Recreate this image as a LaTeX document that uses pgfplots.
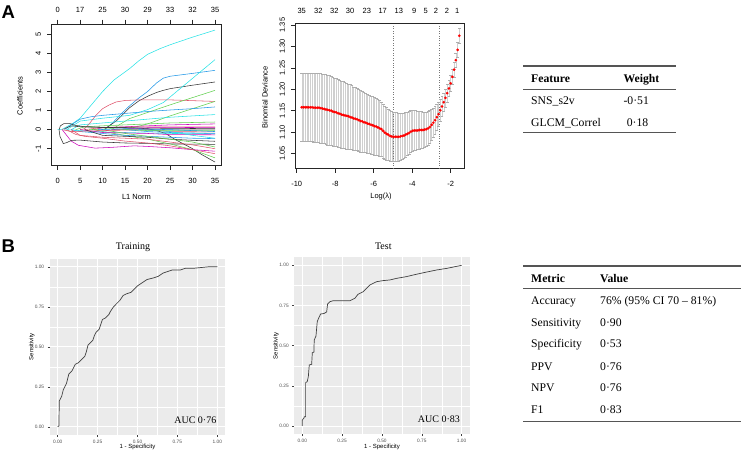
\documentclass[border=0pt]{standalone}
\usepackage{pgfplots}
\pgfplotsset{compat=1.18}
\usepackage{pgfplotstable}
\usepackage{fontspec}
\setmainfont{Liberation Serif}
\newfontfamily\arial{Liberation Sans}
\definecolor{Rblack}{HTML}{000000}
\definecolor{Rred}{HTML}{DF536B}
\definecolor{Rgreen}{HTML}{61D04F}
\definecolor{Rblue}{HTML}{2297E6}
\definecolor{Rcyan}{HTML}{28E2E5}
\definecolor{Rmag}{HTML}{CD0BBC}
\definecolor{Rgray}{HTML}{9E9E9E}
\definecolor{panelgray}{HTML}{EBEBEB}
\definecolor{tickgray}{HTML}{4D4D4D}
\definecolor{rulegray}{HTML}{555555}
\definecolor{barcol}{HTML}{CFCFCF}
\definecolor{capcol}{HTML}{ADADAD}
\definecolor{ptred}{HTML}{FF0000}
\definecolor{vline}{HTML}{777777}
\newcommand{\rfont}{\arial\fontsize{7.5}{9}\selectfont}
\newcommand{\gfont}{\arial\fontsize{4.8}{5.5}\selectfont}
\newcommand{\glab}{\arial\fontsize{6}{7}\selectfont}
\newcommand{\tfont}{\fontsize{11.7}{14}\selectfont}

\pgfplotstableread{
x m e
-9.74 1.158 0.080
-9.65 1.158 0.080
-9.56 1.158 0.080
-9.47 1.158 0.080
-9.38 1.158 0.080
-9.29 1.158 0.080
-9.20 1.158 0.080
-9.11 1.157 0.080
-9.02 1.157 0.080
-8.93 1.157 0.080
-8.84 1.157 0.081
-8.75 1.156 0.081
-8.66 1.155 0.081
-8.57 1.154 0.081
-8.48 1.153 0.082
-8.39 1.152 0.082
-8.30 1.151 0.082
-8.21 1.150 0.081
-8.12 1.148 0.081
-8.03 1.147 0.080
-7.94 1.146 0.080
-7.85 1.144 0.079
-7.76 1.143 0.079
-7.67 1.141 0.078
-7.58 1.140 0.078
-7.49 1.139 0.077
-7.40 1.138 0.077
-7.31 1.137 0.076
-7.22 1.135 0.076
-7.13 1.134 0.075
-7.04 1.132 0.074
-6.95 1.131 0.074
-6.86 1.130 0.073
-6.77 1.128 0.072
-6.68 1.126 0.072
-6.59 1.125 0.071
-6.50 1.123 0.070
-6.41 1.122 0.070
-6.32 1.120 0.069
-6.23 1.119 0.068
-6.14 1.117 0.068
-6.05 1.116 0.067
-5.96 1.114 0.067
-5.87 1.113 0.066
-5.78 1.111 0.066
-5.69 1.109 0.065
-5.60 1.107 0.064
-5.51 1.103 0.063
-5.42 1.099 0.062
-5.33 1.096 0.061
-5.24 1.094 0.060
-5.15 1.091 0.059
-5.06 1.090 0.059
-4.97 1.089 0.058
-4.88 1.089 0.058
-4.79 1.089 0.057
-4.70 1.089 0.056
-4.61 1.090 0.055
-4.52 1.091 0.054
-4.43 1.092 0.053
-4.34 1.094 0.052
-4.25 1.096 0.051
-4.16 1.098 0.050
-4.07 1.101 0.049
-3.98 1.103 0.048
-3.89 1.104 0.047
-3.80 1.104 0.046
-3.71 1.104 0.045
-3.62 1.105 0.044
-3.53 1.105 0.043
-3.44 1.105 0.042
-3.35 1.106 0.041
-3.26 1.107 0.040
-3.17 1.109 0.039
-3.08 1.112 0.038
-2.99 1.117 0.036
-2.90 1.122 0.034
-2.81 1.128 0.032
-2.72 1.135 0.030
-2.63 1.142 0.028
-2.54 1.151 0.026
-2.45 1.160 0.024
-2.36 1.170 0.022
-2.27 1.180 0.021
-2.18 1.191 0.020
-2.09 1.202 0.019
-2.00 1.214 0.018
-1.91 1.229 0.017
-1.82 1.246 0.017
-1.73 1.268 0.017
-1.64 1.292 0.017
-1.55 1.325 0.017
}\cvdata

\begin{document}
\begin{tikzpicture}
\useasboundingbox (0,0) rectangle (741pt,451pt);

% ---------------- Panel A: lasso coefficient paths ----------------
\begin{axis}[
  at={(51.4pt,285.3pt)}, anchor=south west, scale only axis,
  width=169.9pt, height=141.7pt,
  xmin=-1.4, xmax=36.4, ymin=-1.891, ymax=5.54,
  axis line style={black!85, line width=0.5pt},
  tick style={black!85, line width=0.5pt},
  tick align=outside, major tick length=4.3pt,
  xtick pos=left, ytick pos=left,
  xtick={0,5,10,15,20,25,30,35}, xticklabels={0,5,10,15,20,25,30,35},
  ytick={-1,0,1,2,3,4,5}, yticklabels={-1,0,1,2,3,4,5},
  ticklabel style={font=\rfont},
  yticklabel style={rotate=90, anchor=south},
  xticklabel shift=4.8pt, yticklabel shift=2.6pt,
  every axis plot/.append style={line width=0.55pt, mark=none},
]
\addplot[Rcyan] coordinates {(0,0)(1,0.02)(2,0.15)(3.5,0.35)(5,0.6)(7.5,1.3)(10,2.0)(12.5,2.6)(16,3.2)(18,3.6)(20,3.95)(22.8,4.25)(25,4.45)(30,4.85)(35,5.22)};
\addplot[Rblue] coordinates {(10.5,0)(12,0.3)(14,0.8)(16,1.25)(18,1.65)(20,2.0)(22,2.45)(23.5,2.7)(25,2.8)(30,2.95)(35,3.11)};
\addplot[Rblack!80] coordinates {(10.5,0.05)(13,0.45)(16,1.15)(18,1.5)(20,1.75)(22,1.95)(23.5,2.06)(25,2.15)(30,2.33)(35,2.5)};
\addplot[Rcyan] coordinates {(2,0)(5,0.45)(10,0.6)(16,0.75)(20,1.05)(23.5,1.42)(25,1.71)(30,2.69)(35,3.67)};
\addplot[Rred] coordinates {(5,0)(6,0.05)(7,0.3)(8.5,0.75)(10,1.1)(11.5,1.3)(13,1.45)(15,1.53)(18,1.56)(25,1.56)(30,1.52)(35,1.48)};
\addplot[Rgreen] coordinates {(12,0)(14,0.3)(16,0.58)(20,0.9)(25,1.3)(30,1.68)(35,2.06)};
\addplot[Rgreen] coordinates {(15,0)(20,0.3)(25,0.72)(30,1.1)(35,1.48)};
\addplot[Rblue] coordinates {(1.5,0)(3,0.25)(5,0.55)(7.5,0.68)(10,0.75)(15,0.85)(20,0.95)(25,1.03)(30,1.1)(35,1.19)};
\addplot[Rcyan] coordinates {(3,0)(5,0.25)(10,0.35)(15,0.45)(20,0.55)(25,0.65)(30,0.72)(35,0.79)};
\addplot[Rgreen] coordinates {(4,0)(6,0.15)(10,0.2)(20,0.3)(25,0.35)(35,0.4)};
\addplot[Rmag] coordinates {(8,0)(10,0.1)(15,0.15)(20,0.2)(25,0.25)(35,0.3)};
\addplot[Rred] coordinates {(6,0)(10,0.12)(20,0.15)(35,0.14)};
\addplot[Rgray] coordinates {(12,0)(20,0.02)(35,0.02)};
\addplot[Rblack!80] coordinates {(1.5,0.05)(3,0.2)(5,0.15)(10,0.12)(15,0.1)(20,0.05)(22,-0.05)(24,-0.2)(26,-0.5)(28,-0.75)(30,-1.0)(32,-1.3)(35,-1.7)};
\addplot[Rgreen] coordinates {(8,0)(10,-0.1)(15,-0.3)(20,-0.5)(25,-0.75)(30,-1.05)(35,-1.48)};
\addplot[Rmag] coordinates {(1,0)(2,-0.3)(3,-0.6)(4.6,-0.82)(8.3,-0.97)(12,-0.93)(17,-0.85)(20,-0.88)(25,-0.95)(30,-1.05)(35,-1.13)};
\addplot[Rblack!80] coordinates {(2.7,0.32)(1.4,0.32)(0.6,0.2)(0.3,0)(0.5,-0.35)(1.25,-0.73)(2,-0.68)(3.1,-0.56)(5,-0.55)(10,-0.65)(15,-0.7)(20,-0.72)(25,-0.75)(30,-0.76)(35,-0.77)};
\addplot[Rblack!80] coordinates {(2.7,0.32)(4,0.22)(6,0.15)(10,0.12)(20,0.08)(35,0.05)};
\addplot[Rred] coordinates {(2,0)(4,-0.25)(6,-0.35)(10,-0.45)(15,-0.6)(20,-0.7)(25,-0.85)(30,-1.05)(35,-1.26)};
\addplot[Rblue] coordinates {(3,0)(5,-0.1)(10,-0.2)(15,-0.3)(20,-0.35)(25,-0.4)(30,-0.45)(35,-0.47)};
\addplot[Rcyan] coordinates {(2,0)(5,-0.05)(10,-0.12)(20,-0.18)(25,-0.2)(35,-0.22)};
\addplot[Rmag] coordinates {(5,0)(10,-0.15)(20,-0.2)(25,-0.26)(35,-0.27)};
\addplot[Rblack!80] coordinates {(6,0)(10,-0.3)(15,-0.35)(20,-0.4)(25,-0.5)(30,-0.56)(35,-0.61)};
\addplot[Rgreen] coordinates {(10,0)(15,-0.2)(20,-0.35)(25,-0.5)(30,-0.65)(35,-0.91)};
\addplot[Rred] coordinates {(1,0)(3,-0.1)(10,-0.05)(20,0)(25,-0.1)(35,-0.12)};
\addplot[Rblue] coordinates {(15,0)(20,-0.1)(25,-0.15)(35,-0.2)};
\addplot[Rcyan] coordinates {(18,0)(25,-0.1)(30,-0.3)(35,-0.45)};
\addplot[Rmag] coordinates {(12,0)(20,0.1)(35,0.12)};
\addplot[Rred] coordinates {(3,0)(5,-0.3)(10,-0.4)(20,-0.5)(30,-0.8)(35,-1.0)};
\addplot[Rgreen] coordinates {(7,0)(12,0.05)(20,-0.05)(35,-0.05)};
\addplot[Rblue] coordinates {(9,0)(15,0.05)(25,0.0)(35,-0.1)};
\end{axis}
\begin{axis}[
  at={(51.4pt,285.3pt)}, anchor=south west, scale only axis,
  width=169.9pt, height=141.7pt,
  xmin=-1.4, xmax=36.4, ymin=-1.891, ymax=5.54,
  axis x line*=top, axis y line=none,
  axis line style={black!85, line width=0.5pt},
  tick style={black!85, line width=0.5pt},
  tick align=outside, major tick length=4.3pt,
  xtick={0,5,10,15,20,25,30,35}, xticklabels={0,17,25,30,29,33,32,35},
  ticklabel style={font=\rfont}, xticklabel shift=3.5pt,
]
\addplot[draw=none] coordinates {(0,0)};
\end{axis}
\node[font=\rfont, rotate=90] at (20pt,355.2pt) {Coefficients};
\node[font=\rfont] at (136.4pt,254pt) {L1 Norm};

% ---------------- Panel A: CV deviance ----------------
\begin{axis}[
  at={(295.2pt,282.7pt)}, anchor=south west, scale only axis,
  width=169.5pt, height=145.4pt,
  xmin=-10.08, xmax=-1.27, ymin=1.0156, ymax=1.355,
  axis line style={black!85, line width=0.5pt},
  tick style={black!85, line width=0.5pt},
  tick align=outside, major tick length=4.3pt,
  xtick pos=left, ytick pos=left,
  xtick={-10,-8,-6,-4,-2}, xticklabels={-10,-8,-6,-4,-2},
  ytick={1.05,1.1,1.15,1.2,1.25,1.3,1.35}, yticklabels={1.05,1.10,1.15,1.20,1.25,1.30,1.35},
  ticklabel style={font=\rfont},
  yticklabel style={rotate=90, anchor=south},
  xticklabel shift=4.8pt, yticklabel shift=2.4pt,
]
% error bars (mean +- se) drawn as vertical segments
\addplot[draw=barcol, line width=0.45pt, -, quiver={u=0, v={2*\thisrow{e}}}]
  table[x=x, y expr={\thisrow{m}-\thisrow{e}}] {\cvdata};
\addplot[capcol, only marks, mark=-, mark size=1.4pt, mark options={capcol, line width=0.45pt}]
  table[x=x, y expr={\thisrow{m}+\thisrow{e}}] {\cvdata};
\addplot[capcol, only marks, mark=-, mark size=1.4pt, mark options={capcol, line width=0.45pt}]
  table[x=x, y expr={\thisrow{m}-\thisrow{e}}] {\cvdata};
\addplot[dotted, vline, line width=0.45pt] coordinates {(-4.98,1.0156)(-4.98,1.355)};
\addplot[dotted, vline, line width=0.45pt] coordinates {(-2.59,1.0156)(-2.59,1.355)};
\addplot[ptred, only marks, mark=*, mark size=1.3pt, mark options={ptred, fill=ptred, line width=0.1pt}]
  table[x=x, y=m] {\cvdata};
\end{axis}
\begin{axis}[
  at={(295.2pt,282.7pt)}, anchor=south west, scale only axis,
  width=169.5pt, height=145.4pt,
  xmin=-10.08, xmax=-1.27, ymin=1.0156, ymax=1.355,
  axis x line*=top, axis y line=none,
  axis line style={black!85, line width=0.5pt},
  major tick length=0pt, tick align=outside,
  xtick={-9.74,-8.88,-8.05,-7.23,-6.36,-5.53,-4.69,-3.89,-3.30,-2.76,-2.19,-1.66},
  xticklabels={35,32,32,30,23,17,13,9,5,2,2,1},
  ticklabel style={font=\rfont}, xticklabel shift=5.5pt,
]
\addplot[draw=none] coordinates {(-5,1.1)};
\end{axis}
\node[font=\rfont, rotate=90] at (265pt,353.5pt) {Binomial Deviance};
\node[font=\rfont] at (381pt,254pt) {Log(λ)};

% ---------------- Table 1 ----------------
\draw[rulegray, line width=1.1pt] (523.3pt,385pt) -- (675.7pt,385pt);
\draw[rulegray, line width=0.6pt] (523.3pt,362pt) -- (675.7pt,362pt);
\draw[rulegray, line width=1.1pt] (523.3pt,318.3pt) -- (675.7pt,318.3pt);
\node[font=\tfont\bfseries, anchor=base west, inner sep=0pt] at (531pt,368.7pt) {Feature};
\node[font=\tfont\bfseries, anchor=base west, inner sep=0pt] at (623.3pt,368.7pt) {Weight};
\node[font=\tfont, anchor=base west, inner sep=0pt] at (531pt,346.7pt) {SNS\_s2v};
\node[font=\tfont, anchor=base west, inner sep=0pt] at (623.3pt,346.7pt) {-0·51};
\node[font=\tfont, anchor=base west, inner sep=0pt] at (531pt,325pt) {GLCM\_Correl};
\node[font=\tfont, anchor=base west, inner sep=0pt] at (626.6pt,325pt) {0·18};

% ---------------- Panel B: ROC training ----------------
\begin{axis}[
  at={(49.7pt,16.3pt)}, anchor=south west, scale only axis,
  width=175.6pt, height=176pt,
  xmin=-0.05, xmax=1.05, ymin=-0.05, ymax=1.05,
  axis background/.style={fill=panelgray},
  axis lines*=left, axis line style={draw=none},
  grid=both, major grid style={white, line width=0.6pt},
  minor grid style={white, line width=0.3pt},
  minor tick num=1, minor tick length=0pt,
  tick align=outside, major tick length=2pt,
  tick style={black!75, line width=0.4pt},
  xtick={0,0.25,0.5,0.75,1}, xticklabels={0.00,0.25,0.50,0.75,1.00},
  ytick={0,0.25,0.5,0.75,1}, yticklabels={0.00,0.25,0.50,0.75,1.00},
  ticklabel style={font=\gfont, text=tickgray},
]
\addplot[black!75, line width=0.7pt, mark=none] coordinates {(0,0)(0.008,0.005)(0.01,0.16)(0.02,0.18)(0.025,0.19)(0.03,0.21)(0.035,0.23)(0.045,0.25)(0.055,0.27)(0.06,0.29)(0.07,0.33)(0.08,0.34)(0.09,0.35)(0.1,0.37)(0.11,0.39)(0.13,0.40)(0.15,0.42)(0.17,0.44)(0.18,0.47)(0.19,0.51)(0.2,0.52)(0.22,0.54)(0.23,0.57)(0.24,0.59)(0.26,0.61)(0.27,0.64)(0.28,0.67)(0.3,0.68)(0.32,0.70)(0.33,0.72)(0.35,0.75)(0.37,0.77)(0.39,0.79)(0.41,0.82)(0.43,0.83)(0.46,0.84)(0.48,0.86)(0.5,0.88)(0.53,0.90)(0.56,0.92)(0.6,0.93)(0.63,0.94)(0.66,0.96)(0.69,0.97)(0.72,0.98)(0.77,0.98)(0.8,0.99)(0.85,0.99)(0.9,0.995)(0.95,1)(1,1)};
\node[font=\fontsize{10}{12}\selectfont, anchor=base east, inner sep=0pt] at (axis cs:0.995,0.02) {AUC 0·76};
\end{axis}
\node[font=\fontsize{10}{12}\selectfont, anchor=base] at (133pt,201.7pt) {Training};
\node[font=\glab, rotate=90] at (31.7pt,104.3pt) {Sensitivity};
\node[font=\glab] at (137.5pt,4.3pt) {1 - Specificity};

% ---------------- Panel B: ROC test ----------------
\begin{axis}[
  at={(294.3pt,17pt)}, anchor=south west, scale only axis,
  width=175.3pt, height=176.7pt,
  xmin=-0.05, xmax=1.05, ymin=-0.05, ymax=1.05,
  axis background/.style={fill=panelgray},
  axis lines*=left, axis line style={draw=none},
  grid=both, major grid style={white, line width=0.6pt},
  minor grid style={white, line width=0.3pt},
  minor tick num=1, minor tick length=0pt,
  tick align=outside, major tick length=2pt,
  tick style={black!75, line width=0.4pt},
  xtick={0,0.25,0.5,0.75,1}, xticklabels={0.00,0.25,0.50,0.75,1.00},
  ytick={0,0.25,0.5,0.75,1}, yticklabels={0.00,0.25,0.50,0.75,1.00},
  ticklabel style={font=\gfont, text=tickgray},
]
\addplot[black!75, line width=0.7pt, mark=none] coordinates {(0,0)(0,0.037)(0.01,0.048)(0.013,0.058)(0.021,0.058)(0.021,0.27)(0.031,0.276)(0.038,0.307)(0.044,0.38)(0.059,0.384)(0.063,0.456)(0.073,0.46)(0.075,0.535)(0.086,0.56)(0.094,0.65)(0.105,0.676)(0.115,0.697)(0.136,0.70)(0.153,0.71)(0.159,0.76)(0.174,0.774)(0.195,0.78)(0.3,0.78)(0.33,0.795)(0.35,0.82)(0.383,0.836)(0.404,0.857)(0.425,0.878)(0.466,0.898)(0.508,0.905)(0.55,0.909)(0.592,0.919)(0.655,0.93)(0.697,0.94)(0.76,0.954)(0.843,0.971)(0.906,0.981)(1,1)};
\node[font=\fontsize{10}{12}\selectfont, anchor=base east, inner sep=0pt] at (axis cs:0.99,0.02) {AUC 0·83};
\end{axis}
\node[font=\fontsize{10}{12}\selectfont, anchor=base] at (383.3pt,201.7pt) {Test};
\node[font=\glab, rotate=90] at (276pt,105.3pt) {Sensitivity};
\node[font=\glab] at (382pt,4.3pt) {1 - Specificity};

% ---------------- Table 2 ----------------
\draw[rulegray, line width=1.1pt] (523.3pt,185pt) -- (741pt,185pt);
\draw[rulegray, line width=0.6pt] (523.3pt,162.7pt) -- (741pt,162.7pt);
\draw[rulegray, line width=1.1pt] (523.3pt,29.3pt) -- (741pt,29.3pt);
\node[font=\tfont\bfseries, anchor=base west, inner sep=0pt] at (531pt,168.7pt) {Metric};
\node[font=\tfont\bfseries, anchor=base west, inner sep=0pt] at (600pt,168.7pt) {Value};
\node[font=\tfont, anchor=base west, inner sep=0pt] at (531pt,146.7pt) {Accuracy};
\node[font=\tfont, anchor=base west, inner sep=0pt] at (600pt,146.7pt) {76\% (95\% CI 70 – 81\%)};
\node[font=\tfont, anchor=base west, inner sep=0pt] at (531pt,125pt) {Sensitivity};
\node[font=\tfont, anchor=base west, inner sep=0pt] at (600pt,125pt) {0·90};
\node[font=\tfont, anchor=base west, inner sep=0pt] at (531pt,103.3pt) {Specificity};
\node[font=\tfont, anchor=base west, inner sep=0pt] at (600pt,103.3pt) {0·53};
\node[font=\tfont, anchor=base west, inner sep=0pt] at (531pt,81pt) {PPV};
\node[font=\tfont, anchor=base west, inner sep=0pt] at (600pt,81pt) {0·76};
\node[font=\tfont, anchor=base west, inner sep=0pt] at (531pt,59.3pt) {NPV};
\node[font=\tfont, anchor=base west, inner sep=0pt] at (600pt,59.3pt) {0·76};
\node[font=\tfont, anchor=base west, inner sep=0pt] at (531pt,37.7pt) {F1};
\node[font=\tfont, anchor=base west, inner sep=0pt] at (600pt,37.7pt) {0·83};

% ---------------- Panel letters ----------------
\node[font=\arial\bfseries\fontsize{18.5}{20}\selectfont, anchor=base west, inner sep=0pt] at (1.5pt,432.7pt) {A};
\node[font=\arial\bfseries\fontsize{18.5}{20}\selectfont, anchor=base west, inner sep=0pt] at (1.5pt,198.3pt) {B};
\end{tikzpicture}
\end{document}
